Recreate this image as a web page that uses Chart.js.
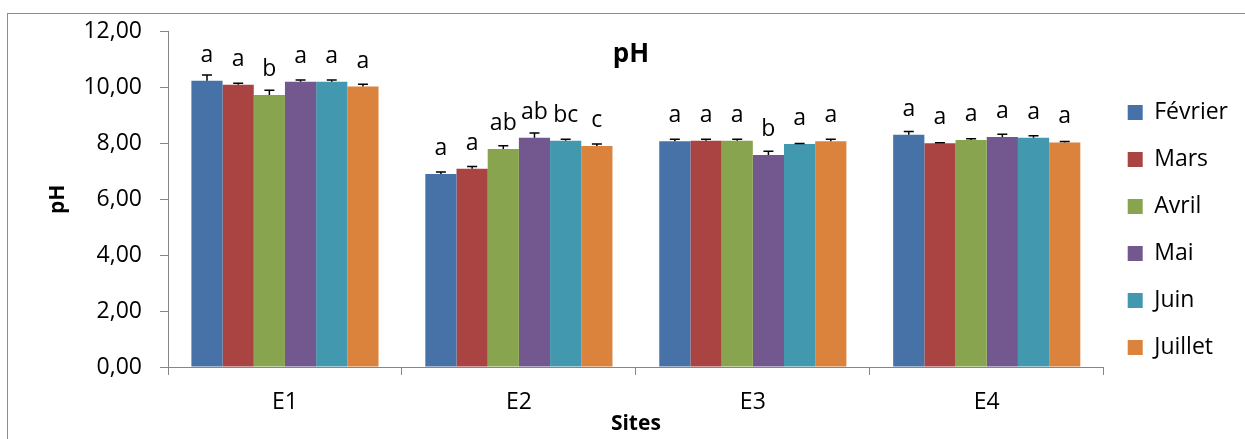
<!DOCTYPE html>
<html>
<head>
<meta charset="utf-8">
<script src="https://cdn.jsdelivr.net/npm/chart.js@4.4.1/dist/chart.umd.min.js"></script>
<style>
    html, body { margin: 0; padding: 0; background: #fff; overflow: hidden; }
    #wrap { position: relative; width: 1245px; height: 439px; }
    #frame { position: absolute; left: 7px; top: 13px; width: 1400px; height: 600px; border: 1px solid #8c8c8c; box-sizing: border-box; pointer-events: none; }
    canvas { position: absolute; left: 0; top: 0; }
</style>
</head>
<body>
<div id="wrap">
    <canvas id="chart" width="1245" height="439"></canvas>
    <div id="frame"></div>
</div>
<script>
// Sites and months
const sites = ['E1', 'E2', 'E3', 'E4'];
const months = ['Février', 'Mars', 'Avril', 'Mai', 'Juin', 'Juillet'];

// Mean pH per month (one value per site)
const fevrier = [10.25, 6.91, 8.08, 8.31];
const mars    = [10.10, 7.10, 8.10, 8.01];
const avril   = [9.74, 7.80, 8.10, 8.13];
const mai     = [10.21, 8.21, 7.59, 8.23];
const juin    = [10.21, 8.10, 7.98, 8.21];
const juillet = [10.04, 7.91, 8.08, 8.04];

// Error bars (+)
const fevrierErr = [0.20, 0.07, 0.07, 0.12];
const marsErr    = [0.06, 0.08, 0.05, 0.02];
const avrilErr   = [0.17, 0.12, 0.05, 0.04];
const maiErr     = [0.06, 0.17, 0.13, 0.10];
const juinErr    = [0.06, 0.05, 0.02, 0.07];
const juilletErr = [0.08, 0.07, 0.07, 0.03];

// Significance letters
const fevrierLetters = ['a', 'a', 'a', 'a'];
const marsLetters    = ['a', 'a', 'a', 'a'];
const avrilLetters   = ['b', 'ab', 'a', 'a'];
const maiLetters     = ['a', 'ab', 'b', 'a'];
const juinLetters    = ['a', 'bc', 'a', 'a'];
const juilletLetters = ['a', 'c', 'a', 'a'];

// Y axis ticks
const yTicks = [0, 2, 4, 6, 8, 10, 12];

const colors = ['#4672a8', '#a94442', '#89a44e', '#72588f', '#4298af', '#db833d'];
const series = [fevrier, mars, avril, mai, juin, juillet];
const errors = [fevrierErr, marsErr, avrilErr, maiErr, juinErr, juilletErr];
const letters = [fevrierLetters, marsLetters, avrilLetters, maiLetters, juinLetters, juilletLetters];

const FONT = "'Open Sans', sans-serif";
const axisColor = '#868686';

// Error bars + letters above bars
const barExtras = {
    id: 'barExtras',
    afterDatasetsDraw(chart) {
        const ctx = chart.ctx;
        const yScale = chart.scales.y;
        ctx.save();
        chart.data.datasets.forEach((ds, i) => {
            const meta = chart.getDatasetMeta(i);
            meta.data.forEach((bar, j) => {
                const top = yScale.getPixelForValue(ds.data[j] + errors[i][j]);
                ctx.strokeStyle = '#000';
                ctx.lineWidth = 1.5;
                ctx.beginPath();
                ctx.moveTo(bar.x, bar.y);
                ctx.lineTo(bar.x, top);
                ctx.moveTo(bar.x - 5, top);
                ctx.lineTo(bar.x + 5, top);
                ctx.stroke();

                ctx.fillStyle = '#000';
                ctx.font = '23px ' + FONT;
                ctx.textAlign = 'center';
                ctx.textBaseline = 'alphabetic';
                ctx.fillText(letters[i][j], bar.x, bar.y - 19);
            });
        });
        ctx.restore();
    },
    afterDraw(chart) {
        const ctx = chart.ctx;
        const area = chart.chartArea;
        ctx.save();
        ctx.fillStyle = '#000';
        ctx.font = 'bold 26px ' + FONT;
        ctx.textAlign = 'center';
        ctx.textBaseline = 'middle';
        ctx.fillText('pH', (area.left + area.right) / 2 - 5, 55);
        ctx.restore();
    }
};

new Chart(document.getElementById('chart'), {
    type: 'bar',
    data: {
        labels: sites,
        datasets: months.map((m, i) => ({
            label: m,
            data: series[i],
            backgroundColor: colors[i],
            borderWidth: 0,
            categoryPercentage: 0.8,
            barPercentage: 1.0
        }))
    },
    options: {
        responsive: false,
        animation: false,
        layout: { padding: { left: 0, top: 30, right: 7, bottom: 9 } },
        plugins: {
            legend: {
                position: 'right',
                labels: {
                    boxWidth: 15,
                    boxHeight: 15,
                    padding: 24,
                    color: '#000',
                    font: { family: FONT, size: 23 }
                }
            },
            tooltip: { enabled: false }
        },
        scales: {
            x: {
                afterFit: (scale) => { scale.height = 63; },
                grid: { display: true, offset: true, drawOnChartArea: false, drawTicks: true, tickLength: 8, color: axisColor },
                border: { display: true, color: axisColor, width: 1 },
                ticks: { color: '#000', padding: 14, font: { family: FONT, size: 23 } },
                title: { display: true, text: 'Sites', color: '#000', padding: { top: 0, bottom: -7 }, font: { family: FONT, size: 21, weight: 'bold' } }
            },
            y: {
                min: 0,
                max: 12,
                afterFit: (scale) => { scale.width = 168; },
                afterBuildTicks: (scale) => { scale.ticks = yTicks.map(v => ({ value: v })); },
                grid: { display: true, drawOnChartArea: false, drawTicks: true, tickLength: 8, color: axisColor },
                border: { display: true, color: axisColor, width: 1 },
                ticks: {
                    color: '#000',
                    padding: 18,
                    font: { family: FONT, size: 23 },
                    callback: (v) => v.toFixed(2).replace('.', ',')
                },
                title: { display: true, text: 'pH', color: '#000', padding: { top: 45, bottom: 0 }, font: { family: FONT, size: 21, weight: 'bold' } }
            }
        }
    },
    plugins: [barExtras]
});
</script>
</body>
</html>
